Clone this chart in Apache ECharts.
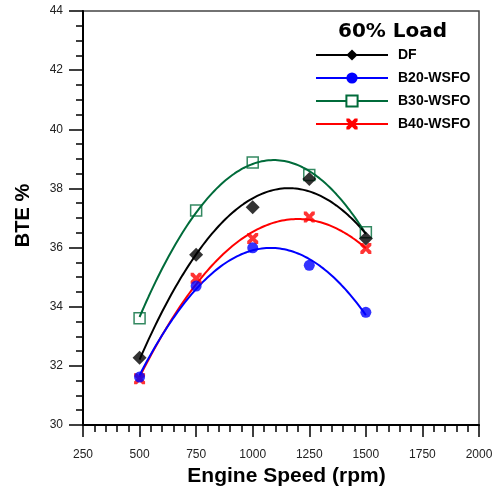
<!DOCTYPE html>
<html>
<head>
<meta charset="utf-8">
<script src="https://cdn.jsdelivr.net/npm/echarts@6/dist/echarts.min.js"></script>
<style>html,body{margin:0;padding:0;background:#fff;}#c{width:502px;height:492px;}</style>
</head>
<body>
<div id="c"></div>
<script>
var speeds = [500, 750, 1000, 1250, 1500];
var DF = [32.27, 35.76, 37.36, 38.32, 36.31];
var B20 = [31.62, 34.70, 35.99, 35.40, 33.81];
var B30 = [33.61, 37.25, 38.88, 38.45, 36.52];
var B40 = [31.56, 34.96, 36.31, 37.03, 35.97];
var xTicks = [250, 500, 750, 1000, 1250, 1500, 1750, 2000];
var yTicks = [30, 32, 34, 36, 38, 40, 42, 44];

// quadratic least-squares trendline computed from the data
function quadFit(xs, ys) {
  var n = xs.length, S = [0,0,0,0,0], T = [0,0,0];
  for (var i = 0; i < n; i++) {
    var x = (xs[i] - 1000) / 250, p = 1;
    for (var k = 0; k < 5; k++) { S[k] += p; if (k < 3) T[k] += p * ys[i]; p *= x; }
  }
  var A = [[S[0],S[1],S[2],T[0]],[S[1],S[2],S[3],T[1]],[S[2],S[3],S[4],T[2]]];
  for (var c = 0; c < 3; c++) {
    for (var r = c + 1; r < 3; r++) {
      var f = A[r][c] / A[c][c];
      for (var j = c; j < 4; j++) A[r][j] -= f * A[c][j];
    }
  }
  var co = [0,0,0];
  for (var r2 = 2; r2 >= 0; r2--) {
    var s = A[r2][3];
    for (var j2 = r2 + 1; j2 < 3; j2++) s -= A[r2][j2] * co[j2];
    co[r2] = s / A[r2][r2];
  }
  var out = [];
  for (var xv = xs[0]; xv <= xs[n-1] + 0.001; xv += 10) {
    var t = (xv - 1000) / 250;
    out.push([xv, co[0] + co[1] * t + co[2] * t * t]);
  }
  return out;
}
function pairs(ys) { return speeds.map(function (s, i) { return [s, ys[i]]; }); }

var XPATH = 'path://M0,0 L2.6,0 L5,2.6 L7.4,0 L10,0 L10,2.6 L7.4,5 L10,7.4 L10,10 L7.4,10 L5,7.4 L2.6,10 L0,10 L0,7.4 L2.6,5 L0,2.6 Z';
var GREEN = '#006b3a';
var defs = [
  {name: 'B30-WSFO', data: B30, color: GREEN, symbol: 'rect', hollow: true, size: 11},
  {name: 'B40-WSFO', data: B40, color: '#ff0000', symbol: XPATH, size: 11},
  {name: 'B20-WSFO', data: B20, color: '#0000ff', symbol: 'circle', size: 11},
  {name: 'DF', data: DF, color: '#000000', symbol: 'diamond', size: 14}
];
var series = [];
defs.forEach(function (d) {
  var is = d.hollow ? {color: '#ffffff', borderColor: d.color, borderWidth: 1.5} : {color: d.color};
  series.push({
    name: d.name, type: 'line', data: quadFit(speeds, d.data), showSymbol: false,
    symbol: d.symbol, symbolSize: d.size, itemStyle: is,
    lineStyle: {color: d.color, width: 2}, z: 2, silent: true, animation: false
  });
});
defs.forEach(function (d) {
  var is = d.hollow ? {color: 'rgba(0,0,0,0)', borderColor: d.color, borderWidth: 1.5} : {color: d.color};
  series.push({
    name: d.name, type: 'scatter', data: pairs(d.data), symbol: d.symbol,
    symbolSize: d.size, itemStyle: is, z: 3, animation: false
  });
});

var chart = echarts.init(document.getElementById('c'), null, {renderer: 'canvas'});
chart.setOption({
  animation: false,
  title: {
    text: '60% Load', left: 338, top: 22, padding: 0,
    textStyle: {fontFamily: 'DejaVu Sans', fontWeight: 'bold', fontSize: 20, color: '#000'}
  },
  legend: {
    orient: 'vertical', left: 315, top: 48, padding: 0, itemWidth: 72, itemHeight: 14, itemGap: 9,
    data: ['DF', 'B20-WSFO', 'B30-WSFO', 'B40-WSFO'],
    textStyle: {fontFamily: 'Liberation Sans, Arial', fontWeight: 'bold', fontSize: 14, color: '#000', padding: [0,0,0,5]}
  },
  grid: {left: 83, right: 23, top: 11, bottom: 67, show: true, borderColor: '#444', borderWidth: 1.5, backgroundColor: 'transparent'},
  xAxis: {
    type: 'value', min: xTicks[0], max: xTicks[xTicks.length-1], interval: 250,
    name: 'Engine Speed (rpm)', nameLocation: 'middle', nameGap: 38,
    nameTextStyle: {fontFamily: 'Liberation Sans, Arial', fontWeight: 'bold', fontSize: 21, color: '#000', padding: [0,0,0,11]},
    axisLine: {lineStyle: {color: '#000', width: 2}},
    axisTick: {inside: false, length: 12, lineStyle: {color: '#000', width: 1.5}},
    minorTick: {show: true, splitNumber: 5, length: 7, lineStyle: {color: '#000', width: 1.5}},
    axisLabel: {margin: 24, formatter: function (v) { return String(v); }, fontFamily: 'Liberation Sans, Arial', fontSize: 12, color: '#222'},
    splitLine: {show: false}
  },
  yAxis: {
    type: 'value', min: yTicks[0], max: yTicks[yTicks.length-1], interval: 2,
    name: 'BTE %', nameLocation: 'middle', nameGap: 50,
    nameTextStyle: {fontFamily: 'Liberation Sans, Arial', fontWeight: 'bold', fontSize: 20, color: '#000', padding: [0,0,0,5]},
    axisLine: {lineStyle: {color: '#000', width: 2}},
    axisTick: {inside: false, length: 14, lineStyle: {color: '#000', width: 1.5}},
    minorTick: {show: true, splitNumber: 4, length: 7, lineStyle: {color: '#000', width: 1.5}},
    axisLabel: {margin: 20, formatter: function (v) { return String(v); }, fontFamily: 'Liberation Sans, Arial', fontSize: 12, color: '#222'},
    splitLine: {show: false}
  },
  series: series
});
</script>
</body>
</html>
